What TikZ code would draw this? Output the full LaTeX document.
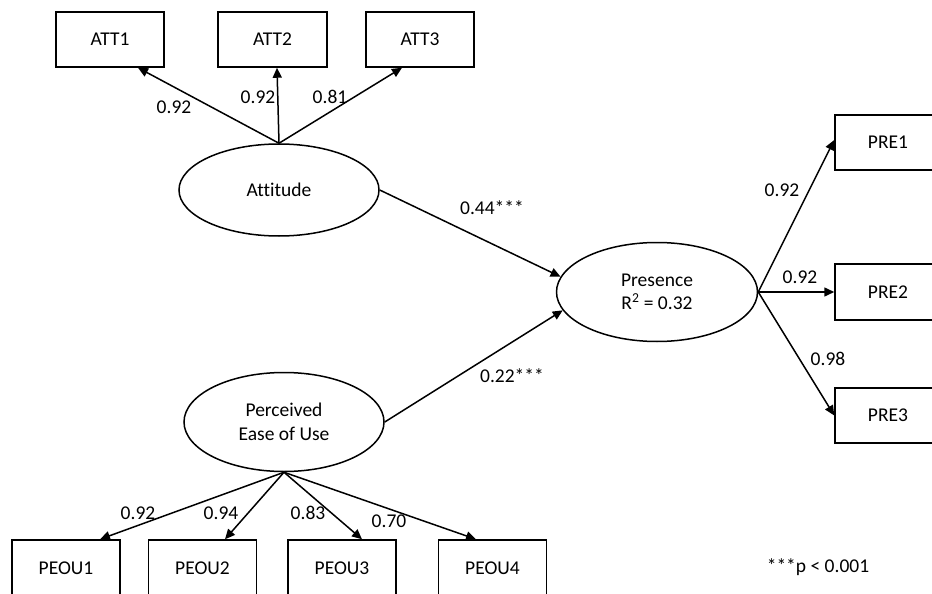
\documentclass[tikz,border=0pt]{standalone}
\usepackage{fontspec}
\setmainfont{Carlito}[Ligatures=NoCommon]
\usepackage{tikz}
\usetikzlibrary{shapes,shapes.geometric,arrows.meta,positioning,calc}

\begin{document}
\begin{tikzpicture}[x=1pt, y=-1pt, font=\fontsize{19.5}{23.5}\selectfont,
    item/.style={rectangle, draw, line width=1.5pt, minimum width=108pt, minimum height=55pt},
    latent/.style={ellipse, draw, line width=1.5pt, align=center, inner sep=0pt},
    load/.style={line width=1.5pt, -{Triangle[length=10pt,width=9pt]}},
    coef/.style={inner sep=1pt}]

    \useasboundingbox (0,0) rectangle (932,594);

    % Latent variables
    \node[latent, minimum width=200pt, minimum height=92pt] (att) at (279,190) {Attitude};
    \node[latent, minimum width=200pt, minimum height=99pt] (peou) at (284,422) {Perceived\\Ease of Use};
    \node[latent, minimum width=201pt, minimum height=99pt] (pres) at (657,292) {Presence\\R\textsuperscript{2} = 0.32};

    % Indicators
    \node[item] (att1) at (110,39.5) {ATT1};
    \node[item, minimum width=109pt] (att2) at (272.5,39.5) {ATT2};
    \node[item] (att3) at (420,39.5) {ATT3};
    \node[item, minimum width=106pt] (pre1) at (888,142.5) {PRE1};
    \node[item, minimum width=106pt, minimum height=56pt] (pre2) at (888,292) {PRE2};
    \node[item, minimum width=106pt] (pre3) at (888,415.5) {PRE3};
    \node[item, minimum height=56pt] (peou1) at (66,568) {PEOU1};
    \node[item, minimum height=56pt] (peou2) at (202.5,568) {PEOU2};
    \node[item, minimum height=56pt] (peou3) at (342,568) {PEOU3};
    \node[item, minimum height=56pt] (peou4) at (492.5,568) {PEOU4};

    % Loadings
    \draw[load] (att.north) -- ([xshift=28pt]att1.south);
    \draw[load] (att.north) -- ([xshift=4.5pt]att2.south);
    \draw[load] (att.north) -- ([xshift=-18pt]att3.south);
    \draw[load] (pres.east) -- ([yshift=2.5pt]pre1.west);
    \draw[load] (pres.east) -- (pre2.west);
    \draw[load] (pres.east) -- (pre3.west);
    \draw[load] (peou.south) -- ([xshift=34pt]peou1.north);
    \draw[load] (peou.south) -- ([xshift=22.5pt]peou2.north);
    \draw[load] (peou.south) -- ([xshift=20pt]peou3.north);
    \draw[load] (peou.south) -- ([xshift=-16.5pt]peou4.north);

    % Paths
    \draw[load] (att.east) -- (pres.171);
    \draw[load] (peou.east) -- (pres.191);

    % Coefficients
    \node[coef] (l1) at (174,107) {0.92};
    \node[coef] (l2) at (258,97) {0.92};
    \node[coef] (l3) at (330,97) {0.81};
    \node[coef] (l4) at (782,190) {0.92};
    \node[coef] (l5) at (800,277) {0.92};
    \node[coef] (l6) at (828,359) {0.98};
    \node[coef] (l7) at (138,513) {0.92};
    \node[coef] (l8) at (221,513) {0.94};
    \node[coef] (l9) at (308,513) {0.83};
    \node[coef] (l10) at (389,521) {0.70};
    \node[coef] (b1) at (492,208) {0.44***};
    \node[coef] (b2) at (512,376) {0.22***};
    \node[coef] (note) at (818,567) {***p < 0.001};

  \end{tikzpicture}
\end{document}
